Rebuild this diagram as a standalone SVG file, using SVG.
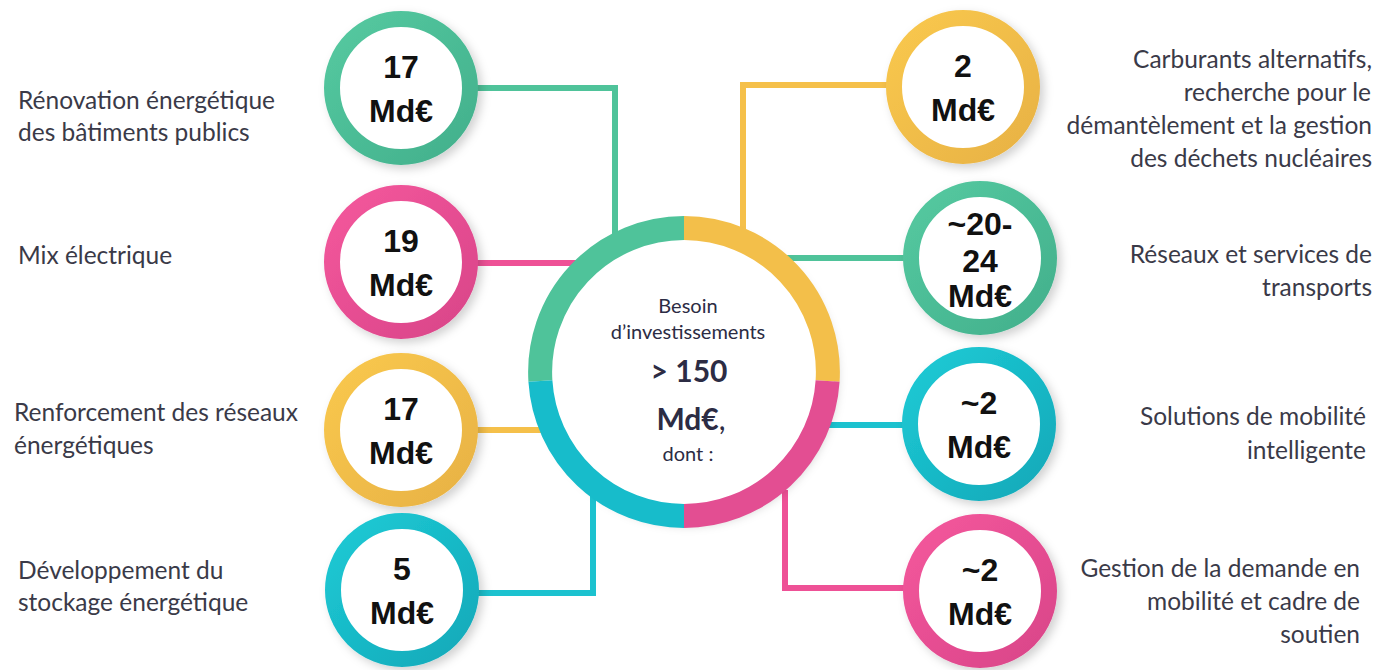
<svg xmlns="http://www.w3.org/2000/svg" width="1393" height="670" viewBox="0 0 1393 670">
<defs>
<linearGradient id="gG" x1="0" y1="0" x2="1" y2="1"><stop offset="0" stop-color="#55c9a0"/><stop offset="1" stop-color="#42b08c"/></linearGradient>
<linearGradient id="gP" x1="0" y1="0" x2="1" y2="1"><stop offset="0" stop-color="#f4579c"/><stop offset="1" stop-color="#d94589"/></linearGradient>
<linearGradient id="gY" x1="0" y1="0" x2="1" y2="1"><stop offset="0" stop-color="#f9c84e"/><stop offset="1" stop-color="#e8b244"/></linearGradient>
<linearGradient id="gC" x1="0" y1="0" x2="1" y2="1"><stop offset="0" stop-color="#1ecad5"/><stop offset="1" stop-color="#11a9b9"/></linearGradient>
<filter id="sh" x="-20%" y="-20%" width="150%" height="150%"><feDropShadow dx="4" dy="4" stdDeviation="5" flood-color="#000" flood-opacity="0.18"/></filter>
</defs>
<style>
.lbl{font-family:Lato,"Open Sans",sans-serif;font-size:24.5px;fill:#3a3a48}
.r{text-anchor:end}
.num{font-family:"Liberation Sans",Arial,sans-serif;font-weight:bold;font-size:32px;fill:#111;text-anchor:middle}
.ctr{font-family:Lato,"Open Sans",sans-serif;fill:#2c2c44;text-anchor:middle}
.con{fill:none;stroke-width:6;stroke-linejoin:miter}
.bub{fill:#fff;stroke-width:16}
</style>
<rect width="1393" height="670" fill="#fff"/>
<g id="connectors">
<path class="con" stroke="#4fc39a" d="M470,88 H615 V240"/>
<path class="con" stroke="#ee5196" d="M470,263 H580"/>
<path class="con" stroke="#f5c04a" d="M470,430 H550"/>
<path class="con" stroke="#1cc2cf" d="M470,593 H593 V490"/>
<path class="con" stroke="#f5c04a" d="M895,85 H743 V240"/>
<path class="con" stroke="#4fc39a" d="M912,258 H780"/>
<path class="con" stroke="#1cc2cf" d="M910,425 H815"/>
<path class="con" stroke="#ee5196" d="M912,588 H785 V490"/>
</g>
<g id="center">
<circle cx="684" cy="372" r="150" fill="#fff" filter="url(#sh)"/>
<g fill="none" stroke-width="24">
<path stroke="#4fc39a" d="M540.4,381 A144,144 0 0 1 684,228"/>
<path stroke="#f3bf4a" d="M684,228 A144,144 0 0 1 827.6,381"/>
<path stroke="#e34e92" d="M827.6,381 A144,144 0 0 1 684,516"/>
<path stroke="#17bccb" d="M684,516 A144,144 0 0 1 540.4,381"/>
</g>
<text class="ctr" x="688" y="313" font-size="20">Besoin</text>
<text class="ctr" x="688" y="339" font-size="20">d’investissements</text>
<text class="ctr" x="689" y="382" font-size="30" font-weight="bold">&gt; 150</text>
<text class="ctr" x="691" y="430" font-size="30" font-weight="bold">Md€<tspan font-weight="normal">,</tspan></text>
<text class="ctr" x="688" y="461" font-size="20">dont :</text>
</g>
<g id="n1"><circle class="bub" cx="401" cy="88" r="69" stroke="url(#gG)" filter="url(#sh)"/><text class="num" x="401" y="78">17</text><text class="num" x="401" y="122">Md€</text>
<text class="lbl" x="18" y="109">Rénovation énergétique</text><text class="lbl" x="18" y="141">des bâtiments publics</text></g>
<g id="n2"><circle class="bub" cx="401" cy="262" r="69" stroke="url(#gP)" filter="url(#sh)"/><text class="num" x="401" y="252">19</text><text class="num" x="401" y="296">Md€</text>
<text class="lbl" x="18" y="264">Mix électrique</text></g>
<g id="n3"><circle class="bub" cx="401" cy="430" r="69" stroke="url(#gY)" filter="url(#sh)"/><text class="num" x="401" y="420">17</text><text class="num" x="401" y="464">Md€</text>
<text class="lbl" x="14" y="421">Renforcement des réseaux</text><text class="lbl" x="14" y="454">énergétiques</text></g>
<g id="n4"><circle class="bub" cx="402" cy="590" r="69" stroke="url(#gC)" filter="url(#sh)"/><text class="num" x="402" y="580">5</text><text class="num" x="402" y="624">Md€</text>
<text class="lbl" x="18" y="579">Développement du</text><text class="lbl" x="18" y="611">stockage énergétique</text></g>
<g id="n5"><circle class="bub" cx="963" cy="87" r="69" stroke="url(#gY)" filter="url(#sh)"/><text class="num" x="963" y="77">2</text><text class="num" x="963" y="121">Md€</text>
<text class="lbl r" x="1372" y="68">Carburants alternatifs,</text><text class="lbl r" x="1371" y="101">recherche pour le</text><text class="lbl r" x="1372" y="134">démantèlement et la gestion</text><text class="lbl r" x="1372" y="167">des déchets nucléaires</text></g>
<g id="n6"><circle class="bub" cx="980" cy="258" r="69" stroke="url(#gG)" filter="url(#sh)"/><text class="num" x="980" y="235" font-size="30">~20-</text><text class="num" x="980" y="272" font-size="30">24</text><text class="num" x="980" y="307" font-size="30">Md€</text>
<text class="lbl r" x="1372" y="263">Réseaux et services de</text><text class="lbl r" x="1372" y="296">transports</text></g>
<g id="n7"><circle class="bub" cx="979" cy="424" r="69" stroke="url(#gC)" filter="url(#sh)"/><text class="num" x="979" y="414">~2</text><text class="num" x="979" y="458">Md€</text>
<text class="lbl r" x="1366" y="425">Solutions de mobilité</text><text class="lbl r" x="1366" y="459">intelligente</text></g>
<g id="n8"><circle class="bub" cx="980" cy="591" r="69" stroke="url(#gP)" filter="url(#sh)"/><text class="num" x="980" y="581">~2</text><text class="num" x="980" y="625">Md€</text>
<text class="lbl r" x="1360" y="577">Gestion de la demande en</text><text class="lbl r" x="1360" y="610">mobilité et cadre de</text><text class="lbl r" x="1360" y="643">soutien</text></g>
</svg>
